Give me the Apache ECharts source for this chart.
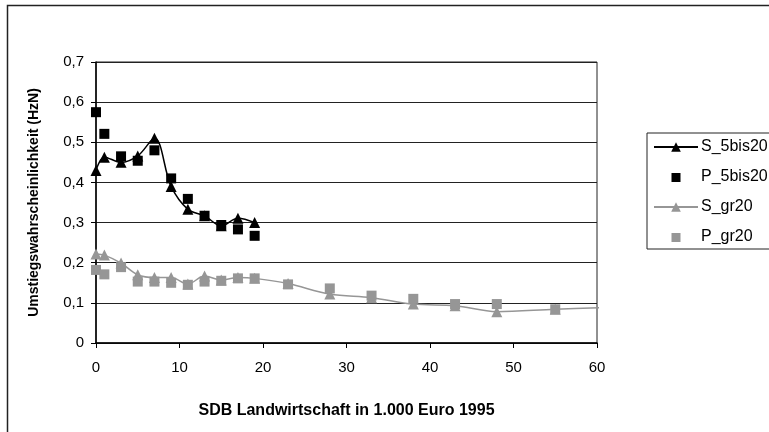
<!DOCTYPE html>
<html>
<head>
<meta charset="utf-8">
<script src="https://cdn.jsdelivr.net/npm/echarts@6/dist/echarts.min.js"></script>
<style>
html,body{margin:0;padding:0;background:#fff;}
#chart{width:769px;height:432px;}
</style>
</head>
<body>
<div id="chart"></div>
<script>
// Data
const xS5 = [0, 1, 3, 5, 7, 9, 11, 13, 15, 17, 19];
const S_5bis20 = [0.43, 0.463, 0.45, 0.466, 0.51, 0.39, 0.333, 0.317, 0.292, 0.311, 0.30];
const xP5 = [0, 1, 3, 5, 7, 9, 11, 13, 15, 17, 19];
const P_5bis20 = [0.575, 0.521, 0.465, 0.454, 0.48, 0.41, 0.359, 0.317, 0.294, 0.283, 0.267];
const xSgr = [0, 1, 3, 5, 7, 9, 11, 13, 15, 17, 19, 23, 28, 33, 38, 43, 48, 55, 61];
const S_gr20 = [0.222, 0.219, 0.199, 0.17, 0.163, 0.163, 0.147, 0.167, 0.157, 0.163, 0.161, 0.148, 0.122, 0.113, 0.097, 0.093, 0.078, 0.084, 0.088];
const xPgr = [0, 1, 3, 5, 7, 9, 11, 13, 15, 17, 19, 23, 28, 33, 38, 43, 48, 55];
const P_gr20 = [0.182, 0.171, 0.189, 0.153, 0.153, 0.15, 0.145, 0.153, 0.155, 0.161, 0.161, 0.146, 0.136, 0.118, 0.11, 0.097, 0.097, 0.084];
const xTicks = [0, 10, 20, 30, 40, 50, 60];
const yTicks = ['0', '0,1', '0,2', '0,3', '0,4', '0,5', '0,6', '0,7'];

const BLACK = '#000000';
const GRAY = '#969696';
const FONT = 'Liberation Sans, Arial, sans-serif';
// small centred square inside a 44x11 legend slot
const SQUARE_ICON = 'path://M0,0L0,0ZM44,11L44,11ZM17.5,1.5h9v9h-9Z';

function pairs(xs, ys) { return xs.map((x, i) => [x, ys[i]]); }

const sgrData = pairs(xSgr, S_gr20).map((p, i) =>
  i === xSgr.length - 1 ? { value: p, symbol: 'none' } : p);

const chart = echarts.init(document.getElementById('chart'), null, { renderer: 'canvas' });
chart.setOption({
  animation: false,
  backgroundColor: '#fff',
  graphic: [{
    type: 'rect', z: -1, silent: true,
    shape: { x: 7.5, y: 5.5, width: 1000, height: 1000 },
    style: { fill: 'none', stroke: '#222', lineWidth: 1.5 }
  }],
  grid: { left: 96, right: 172, top: 62, bottom: 89, show: true, borderColor: '#222', borderWidth: 1, backgroundColor: 'transparent' },
  legend: {
    orient: 'vertical', left: 647, top: 133,
    padding: [6, 40, 4, 6],
    itemWidth: 44, itemHeight: 12, itemGap: 14,
    borderColor: '#222', borderWidth: 1,
    textStyle: { fontFamily: FONT, fontSize: 16, color: '#000', padding: [0, 0, 0, -2] },
    data: [
      { name: 'S_5bis20' },
      { name: 'P_5bis20', icon: SQUARE_ICON },
      { name: 'S_gr20' },
      { name: 'P_gr20', icon: SQUARE_ICON }
    ]
  },
  xAxis: {
    type: 'value', min: 0, max: 60, interval: 10,
    name: 'SDB Landwirtschaft in 1.000 Euro 1995',
    nameLocation: 'middle', nameGap: 60,
    nameTextStyle: { fontFamily: FONT, fontSize: 16, fontWeight: 'bold', color: '#000' },
    axisLine: { show: true, lineStyle: { color: '#000', width: 1.5 } },
    axisTick: { show: true, inside: false, length: 5, lineStyle: { color: '#000' } },
    axisLabel: { fontFamily: FONT, fontSize: 15, color: '#000', margin: 17,
      formatter: v => xTicks.indexOf(v) >= 0 ? String(v) : '' },
    splitLine: { show: false }
  },
  yAxis: {
    type: 'value', min: 0, max: 0.7, interval: 0.1,
    name: 'Umstiegswahrscheinlichkeit (HzN)',
    nameLocation: 'middle', nameGap: 55, nameRotate: 90,
    nameTextStyle: { fontFamily: FONT, fontSize: 14, fontWeight: 'bold', color: '#000' },
    axisLine: { show: true, lineStyle: { color: '#000', width: 1.5 } },
    axisTick: { show: true, inside: false, length: 5, lineStyle: { color: '#000' } },
    axisLabel: { fontFamily: FONT, fontSize: 15, color: '#000', margin: 12,
      formatter: v => yTicks[Math.round(v * 10)] },
    splitLine: { show: true, lineStyle: { color: '#222', width: 1 } }
  },
  series: [
    {
      name: 'S_5bis20', type: 'line', smooth: 0.35, data: pairs(xS5, S_5bis20),
      symbol: 'triangle', symbolSize: 11,
      lineStyle: { color: BLACK, width: 1.5 }, itemStyle: { color: BLACK, opacity: 1 }, z: 4
    },
    {
      name: 'P_5bis20', type: 'scatter', data: pairs(xP5, P_5bis20),
      symbol: 'rect', symbolSize: 10, itemStyle: { color: BLACK, opacity: 1 }, z: 5
    },
    {
      name: 'S_gr20', type: 'line', smooth: 0.35, data: sgrData, clip: false,
      symbol: 'triangle', symbolSize: 11,
      lineStyle: { color: GRAY, width: 1.5 }, itemStyle: { color: GRAY, opacity: 1 }, z: 3
    },
    {
      name: 'P_gr20', type: 'scatter', data: pairs(xPgr, P_gr20),
      symbol: 'rect', symbolSize: 10, itemStyle: { color: GRAY, opacity: 1 }, z: 3
    }
  ]
});
</script>
</body>
</html>
